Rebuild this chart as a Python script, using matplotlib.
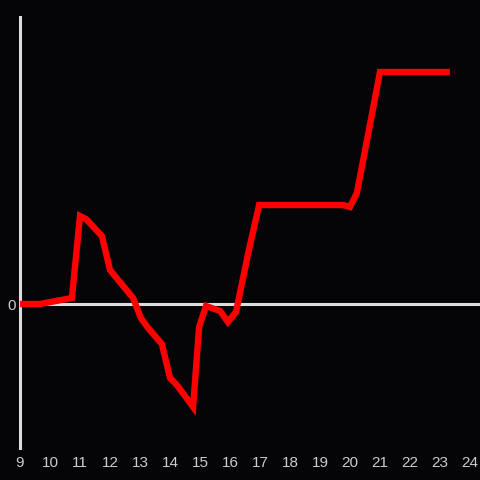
import matplotlib
matplotlib.use("Agg")
import matplotlib.pyplot as plt

x_vals = [9.0, 9.67, 10.73, 11.0, 11.2, 11.73, 12.0, 12.77, 13.03, 13.27, 13.73,
          14.0, 14.23, 14.77, 14.97, 15.2, 15.67, 15.93, 16.2, 16.63, 16.97,
          19.77, 20.0, 20.23, 21.0, 23.33]
y_vals = [0, 0, 6, 88, 85, 68, 34, 6, -14, -24, -40,
          -74, -81, -103, -23, -2, -7, -18, -8, 54, 99,
          99, 97, 111, 232, 232]
x_ticks = list(range(9, 25))
y_ticks = [0]

bg = "#050407"
fig = plt.figure(figsize=(4.8, 4.8), dpi=100, facecolor=bg)
ax = fig.add_axes([20/480, 32/480, 460/480, 431/480], facecolor=bg)

ax.axhline(0, color="#dddddd", lw=2.2, zorder=1)
ax.plot(x_vals, y_vals, color="#ff0000", lw=4.6, solid_joinstyle="miter",
        solid_capstyle="butt", zorder=3)

ax.set_xlim(9, 9 + 460/30)
ax.set_ylim(-144, 287)
for s in ["top", "right", "bottom"]:
    ax.spines[s].set_visible(False)
ax.spines["left"].set_color("#dddddd")
ax.spines["left"].set_linewidth(2.2)
ax.set_xticks(x_ticks)
ax.set_yticks(y_ticks)
ax.tick_params(length=0, colors="#cccccc", labelsize=11, pad=6)
for lab in ax.get_xticklabels() + ax.get_yticklabels():
    lab.set_family("Liberation Sans")
ax.tick_params(axis="y", pad=3)

fig.savefig("out.png", dpi=100, facecolor=bg)
